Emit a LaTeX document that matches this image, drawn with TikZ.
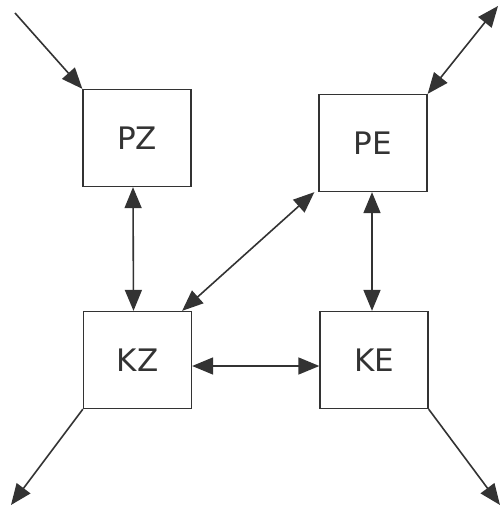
\documentclass[tikz,border=0pt]{standalone}
\usepackage{fontspec}
\setmainfont{DejaVu Sans}
\usetikzlibrary{arrows.meta}
\definecolor{ink}{HTML}{333333}
\tikzset{
  blk/.style={draw=ink, line width=1.3pt, fill=white, minimum width=108pt, minimum height=97pt, inner sep=0pt, text=ink, font=\fontsize{31}{33}\selectfont},
  tip/.style={Triangle[length=21pt,width=17pt]},
  con/.style={draw=ink, line width=1.6pt, -{Triangle[length=21pt,width=17pt]}},
  dcon/.style={draw=ink, line width=1.6pt, {Triangle[length=21pt,width=17pt]}-{Triangle[length=21pt,width=17pt]}}
}
\begin{document}
\begin{tikzpicture}[x=1pt,y=-1pt]
\useasboundingbox (0,0) rectangle (501,508);
\node[blk] (PZ) at (137,138) {PZ};
\node[blk] (PE) at (373,143) {PE};
\node[blk] (KZ) at (137.5,360) {KZ};
\node[blk] (KE) at (374,360) {KE};
\coordinate (inPZ) at (15,13);
\coordinate (outPE) at (498,6);
\coordinate (outKZ) at (11,505);
\coordinate (outKE) at (500,505);
\draw[con] (inPZ) -- (PZ.north west);
\draw[dcon] (outPE) -- (PE.north east);
\draw[con] (KZ.south west) -- (outKZ);
\draw[con] (KE.south east) -- (outKE);
\draw[dcon] ([xshift=-4pt]PZ.south) -- ([xshift=-4pt]KZ.north);
\draw[dcon] ([xshift=-1pt]PE.south) -- ([xshift=-2pt]KE.north);
\draw[dcon] ([xshift=-10pt]KZ.north east) -- ([xshift=-4pt]PE.south west);
\draw[dcon] ([yshift=-6pt]KZ.east) -- ([yshift=-6pt]KE.west);
\end{tikzpicture}
\end{document}
